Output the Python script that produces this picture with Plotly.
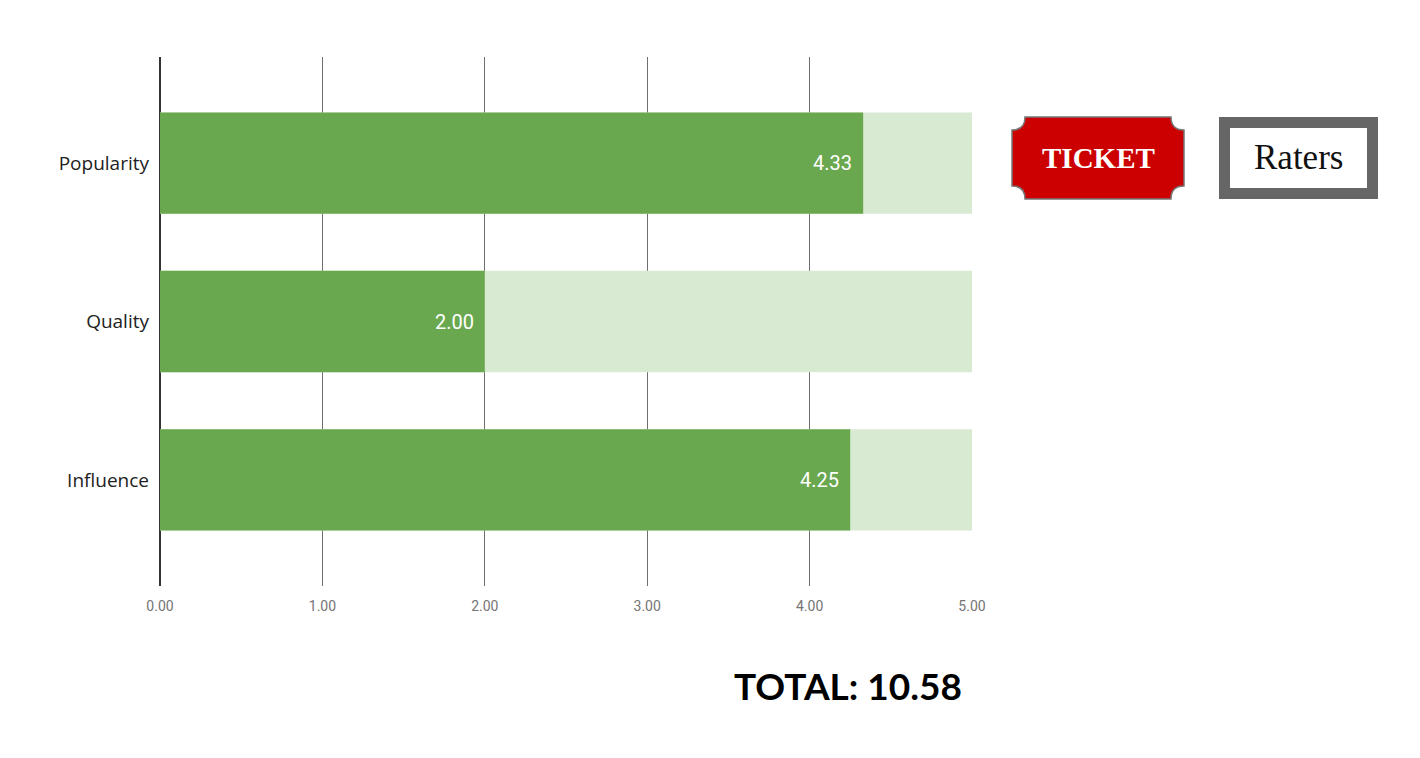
import plotly.graph_objects as go

categories = ["Popularity", "Quality", "Influence"]
scores = [4.33, 2.00, 4.25]
max_scores = [5, 5, 5]
tick_vals = [0, 1, 2, 3, 4, 5]
tick_text = ["0.00", "1.00", "2.00", "3.00", "4.00", "5.00"]
total_label = "TOTAL: 10.58"

# page has an 8px body margin; size the figure so the page does not overflow
OFF = 8
W, H = 1420 - 2 * OFF, 758 - 2 * OFF


def px(x):
    return (x - OFF) / W


def py(y):
    return 1 - (y - OFF) / H


fig = go.Figure()
fig.add_trace(go.Bar(
    y=categories, x=max_scores, orientation="h",
    marker=dict(color="#d9ead3", line=dict(width=0)),
    width=0.64, hoverinfo="skip", showlegend=False,
))
fig.add_trace(go.Bar(
    y=categories, x=scores, orientation="h",
    marker=dict(color="#6aa84f", line=dict(width=0)),
    width=0.64, showlegend=False,
))
for c, v in zip(categories, scores):
    fig.add_annotation(
        x=v, y=c, xref="x", yref="y", text=f"{v:.2f}",
        showarrow=False, xanchor="right", yanchor="middle", xshift=-9,
        font=dict(family="Roboto", size=20, color="white"),
    )

# ticket badge
x0, x1, y0, y1, r = 1012, 1184, 117, 199, 13
pts = [
    ("M", x0, y0 + r),
    ("Q", x0 + r, y0 + r, x0 + r, y0),
    ("L", x1 - r, y0),
    ("Q", x1 - r, y0 + r, x1, y0 + r),
    ("L", x1, y1 - r),
    ("Q", x1 - r, y1 - r, x1 - r, y1),
    ("L", x0 + r, y1),
    ("Q", x0 + r, y1 - r, x0, y1 - r),
]
path = ""
for p in pts:
    cmd = p[0]
    coords = p[1:]
    parts = []
    for i in range(0, len(coords), 2):
        parts.append(f"{px(coords[i]):.5f},{py(coords[i+1]):.5f}")
    path += cmd + " " + " ".join(parts) + " "
path += "Z"
fig.add_shape(type="path", path=path, xref="paper", yref="paper",
              fillcolor="#cc0000", line=dict(color="#777777", width=1.5), layer="above")
fig.add_annotation(x=px((x0 + x1) / 2), y=py(158), xref="paper", yref="paper",
                   xanchor="center", yanchor="middle",
                   text="<b>TICKET</b>", showarrow=False,
                   font=dict(family="Liberation Serif", size=29, color="white"))

# raters box
fig.add_shape(type="rect", xref="paper", yref="paper",
              x0=px(1219), x1=px(1378), y0=py(199), y1=py(117),
              fillcolor="#666666", line=dict(width=0), layer="above")
fig.add_shape(type="rect", xref="paper", yref="paper",
              x0=px(1230), x1=px(1367), y0=py(188), y1=py(128),
              fillcolor="white", line=dict(width=0), layer="above")
fig.add_annotation(x=px(1298), y=py(158), xref="paper", yref="paper",
                   xanchor="center", yanchor="middle",
                   text="Raters", showarrow=False,
                   font=dict(family="Liberation Serif", size=35, color="#111111"))

fig.add_annotation(x=px(848), y=py(685), xref="paper", yref="paper",
                   xanchor="center", yanchor="middle",
                   text=f"<b>{total_label}</b>", showarrow=False,
                   font=dict(family="Lato", size=37, color="black"))

fig.update_layout(
    width=W, height=H,
    autosize=False,
    margin=dict(l=0, r=0, t=0, b=0, autoexpand=False),
    paper_bgcolor="white", plot_bgcolor="white",
    barmode="overlay",
    xaxis=dict(
        domain=[px(160), px(972)], range=[0, 5],
        tickvals=tick_vals, ticktext=tick_text,
        showgrid=True, gridcolor="#6f6f6f", gridwidth=1,
        zeroline=True, zerolinecolor="#333333", zerolinewidth=1.5,
        showline=False, ticks="",
        tickfont=dict(family="Roboto", size=14, color="#757575"),
        ticklabelstandoff=10,
        fixedrange=True,
    ),
    yaxis=dict(
        domain=[py(586), py(57)],
        categoryorder="array", categoryarray=categories,
        range=[2.67, -0.67],
        showgrid=False, zeroline=False, showline=False, ticks="",
        tickfont=dict(family="Open Sans", size=19, color="#222222"),
        ticklabelstandoff=10,
        fixedrange=True,
    ),
)

fig.write_html("out.html", config={"responsive": False, "displayModeBar": False})
